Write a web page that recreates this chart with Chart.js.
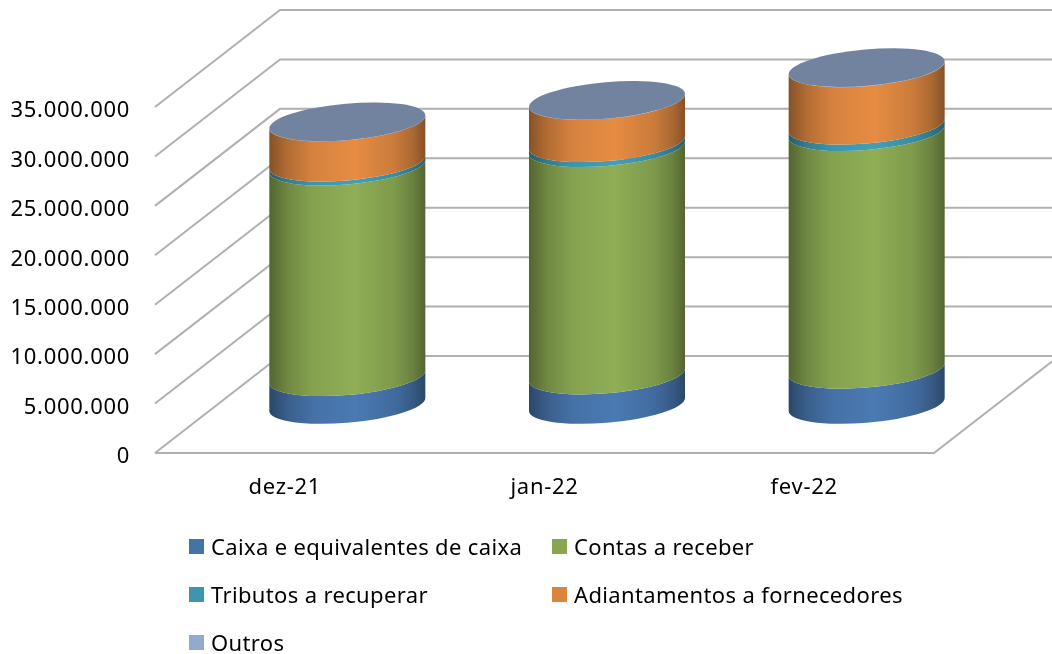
<!DOCTYPE html>
<html>
<head>
<meta charset="utf-8">
<style>
  html, body { margin: 0; padding: 0; background: #fff; }
  #wrap { width: 1052px; height: 654px; }
  #chart { filter: blur(0.4px); }
</style>
<script src="https://cdn.jsdelivr.net/npm/chart.js@4/dist/chart.umd.min.js"></script>
</head>
<body>
<div id="wrap"><canvas id="chart" width="1052" height="654"></canvas></div>
<script>
// values
var categories = ['dez-21', 'jan-22', 'fev-22'];
var seriesNames = ['Caixa e equivalentes de caixa', 'Contas a receber', 'Tributos a recuperar', 'Adiantamentos a fornecedores', 'Outros'];
var caixa = [2810000, 2980000, 3560000];
var contas = [21300000, 23000000, 24040000];
var tributos = [400000, 500000, 650000];
var adiantamentos = [4070000, 4270000, 5800000];
var outros = [20000, 20000, 20000];

var seriesColors = ['#4a7ab3', '#8fae55', '#41a0b8', '#e68c43', '#8496bb'];
var legendColors = ['#4572a7', '#89a54e', '#3d96ae', '#db843d', '#93a9cf'];
var topColor = '#7283a0';

// 3d look: depth of the side wall and tilt of the ellipses
var depthX = 125, depthY = 97;
var tilt = 5 * Math.PI / 180, ellipseB = 18.2;
var shadeStops = [[0, 0.58], [0.12, 0.78], [0.28, 0.93], [0.55, 1], [0.8, 0.88], [0.92, 0.74], [1, 0.58]];

function shade(hex, k) {
  var n = parseInt(hex.slice(1), 16);
  var r = Math.round((n >> 16) * k), g = Math.round(((n >> 8) & 255) * k), b = Math.round((n & 255) * k);
  return 'rgb(' + r + ',' + g + ',' + b + ')';
}

var walls = {
  id: 'walls',
  beforeDatasetsDraw: function(chart) {
    var c = chart.ctx, a = chart.chartArea, y = chart.scales.y;
    c.save();
    c.strokeStyle = '#b0b0b0';
    c.lineWidth = 2;
    y.ticks.forEach(function(t) {
      var py = y.getPixelForValue(t.value);
      c.beginPath();
      c.moveTo(a.left, py);
      c.lineTo(a.left + depthX, py - depthY);
      c.lineTo(a.right + depthX, py - depthY);
      c.stroke();
    });
    var y0 = y.getPixelForValue(0);
    c.beginPath();
    c.moveTo(a.left, y0);
    c.lineTo(a.right, y0);
    c.lineTo(a.right + depthX, y0 - depthY);
    c.stroke();
    c.restore();
  }
};

// the bars come out of the scales, they are only drawn as cylinders standing mid depth
var cylinders = {
  id: 'cylinders',
  beforeDatasetsDraw: function(chart) {
    var c = chart.ctx;
    c.save();
    c.translate(depthX / 2, -depthY / 2);
    categories.forEach(function(cat, i) {
      var last = null;
      seriesNames.forEach(function(name, s) {
        var el = chart.getDatasetMeta(s).data[i];
        var a = el.width / 2;
        var t0 = Math.atan2(ellipseB * Math.sin(tilt), a * Math.cos(tilt));
        var grad = c.createLinearGradient(el.x - a, 0, el.x + a, 0);
        shadeStops.forEach(function(st) { grad.addColorStop(st[0], shade(seriesColors[s], st[1])); });
        c.beginPath();
        c.ellipse(el.x, el.y, a, ellipseB, -tilt, t0, t0 + Math.PI, false);
        c.ellipse(el.x, el.base, a, ellipseB, -tilt, t0 + Math.PI, t0, true);
        c.closePath();
        c.fillStyle = grad;
        c.fill();
        last = el;
      });
      c.beginPath();
      c.ellipse(last.x, last.y, last.width / 2, ellipseB, -tilt, 0, Math.PI * 2);
      c.fillStyle = topColor;
      c.fill();
    });
    c.restore();
    return false;
  }
};

// two column legend, the built-in one can't line its columns up
var legendSlots = [[189, 539], [552, 539], [189, 587], [552, 587], [189, 635]];
var columnLegend = {
  id: 'columnLegend',
  afterDraw: function(chart) {
    var c = chart.ctx;
    c.save();
    c.font = '22px "Noto Sans"';
    c.letterSpacing = '0.35px';
    c.textBaseline = 'middle';
    c.textAlign = 'left';
    seriesNames.forEach(function(name, s) {
      var p = legendSlots[s];
      c.fillStyle = legendColors[s];
      c.fillRect(p[0], p[1], 15, 15);
      c.fillStyle = '#000';
      c.fillText(name, p[0] + 22, p[1] + 10);
    });
    c.restore();
  }
};

var spacing = {
  id: 'spacing',
  beforeDraw: function(chart) { chart.ctx.letterSpacing = '0.7px'; }
};

var data = [caixa, contas, tributos, adiantamentos, outros];

new Chart(document.getElementById('chart'), {
  type: 'bar',
  data: {
    labels: categories,
    datasets: seriesNames.map(function(name, s) {
      return { label: name, data: data[s], backgroundColor: seriesColors[s] };
    })
  },
  options: {
    responsive: false,
    animation: false,
    barPercentage: 0.603,
    categoryPercentage: 1,
    layout: { padding: { top: 107, right: 118, left: 0, bottom: 0 } },
    scales: {
      x: {
        stacked: true,
        grid: { display: false, drawTicks: false },
        border: { display: false },
        ticks: { color: '#000', font: { family: 'Noto Sans', size: 22 }, padding: 22, maxRotation: 0 },
        afterFit: function(s) { s.height = 201; }
      },
      y: {
        stacked: true,
        min: 0,
        max: 35000000,
        grid: { display: false, drawTicks: false },
        border: { display: false },
        ticks: {
          stepSize: 5000000,
          color: '#000',
          font: { family: 'Noto Sans', size: 22 },
          padding: 25,
          labelOffset: 4,
          callback: function(v) { return String(v).replace(/\B(?=(\d{3})+$)/g, '.'); }
        },
        afterFit: function(s) { s.width = 155; }
      }
    },
    plugins: {
      legend: { display: false },
      tooltip: { enabled: false }
    }
  },
  plugins: [spacing, walls, cylinders, columnLegend]
});
</script>
</body>
</html>
